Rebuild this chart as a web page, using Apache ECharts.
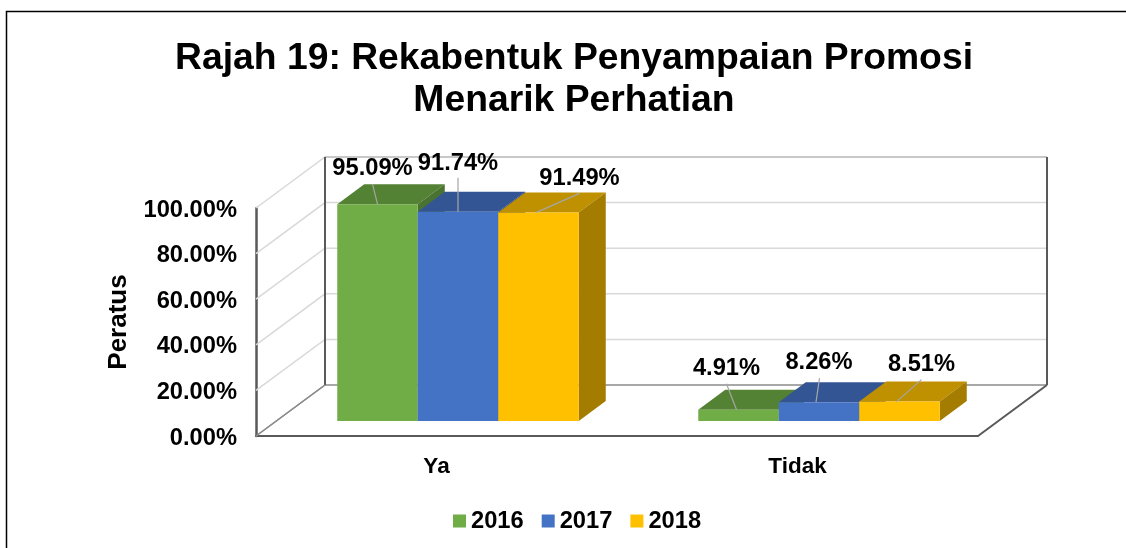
<!DOCTYPE html>
<html><head><meta charset="utf-8">
<style>html,body{margin:0;padding:0;background:#fff}#c{width:1126px;height:548px}</style>
<script src="https://cdn.jsdelivr.net/npm/echarts@6/dist/echarts.min.js"></script>
</head><body><div id="c"></div>
<script>
const categories = ['Ya', 'Tidak'];
const years = ['2016', '2017', '2018'];
const values2016 = [95.09, 4.91];
const values2017 = [91.74, 8.26];
const values2018 = [91.49, 8.51];
const yTicks = [0, 20, 40, 60, 80, 100];
const colors = ['#70AD47', '#4472C4', '#FFC000'];
const topColors = ['#548235', '#335593', '#BF9000'];
const sideColors = ['#4A7230', '#2C4A80', '#A37C00'];

// Perspective of the drawing (pixels)
const wallDx = 69, wallDy = -51;
const barShiftX = 21.5, barShiftY = -15, barW = 80.5, depthX = 27, depthY = -20;
// Label centre (dx, dy), leader end (dx, dy) and leader start dx, relative to the bar's front-top centre;
// one row per series, one cell per category
const labelOffset = [
  [[-5, -35.5, -5, -20, 0], [-12, -41.5, -12, -26, -2]],
  [[0, -48.5, 0, -34, 0], [0, -39.5, 0.5, -24, -3]],
  [[41, -33.5, 41, -19, -2], [22, -37.5, 22, -22, -3]]
];

function barRender(si) {
  return function (params, api) {
    const cat = api.value(0), val = api.value(1);
    const p = api.coord([cat, val]), b = api.coord([cat, 0]);
    const cx = p[0] + barShiftX + (si - 1) * barW;
    const x0 = cx - barW / 2, x1 = cx + barW / 2;
    const yT = p[1] + barShiftY, yB = b[1] + barShiftY;
    const kids = [];
    const poly = (pts, fill, z) => kids.push({ type: 'polygon', shape: { points: pts }, style: { fill: fill }, z2: z });
    poly([[x0, yT], [x0 + depthX, yT + depthY], [x1 + depthX, yT + depthY], [x1, yT]], topColors[si], 1);
    poly([[x1, yT], [x1 + depthX, yT + depthY], [x1 + depthX, yB + depthY], [x1, yB]], sideColors[si], 1);
    poly([[x0, yT], [x1, yT], [x1, yB], [x0, yB]], colors[si], 2);
    const o = labelOffset[si][cat];
    kids.push({ type: 'line', shape: { x1: cx + o[4], y1: yT, x2: cx + o[2], y2: yT + o[3] }, style: { stroke: '#A6A6A6', lineWidth: 1.2 }, z2: 5 });
    kids.push({ type: 'text', x: cx + o[0], y: yT + o[1], style: { text: val.toFixed(2) + '%', font: 'bold 23.7px "Liberation Sans"', fill: '#000', align: 'center', verticalAlign: 'middle' }, z2: 6 });
    return { type: 'group', children: kids };
  };
}

function plotEnds(api, v) {
  const band = api.size([1, 0])[0];
  const l = api.coord([0, v]), r = api.coord([1, v]);
  return [[l[0] - band / 2, l[1]], [r[0] + band / 2, r[1]]];
}

function wallRender(params, api) {
  const v = api.value(0);
  const e = plotEnds(api, v), L = e[0], R = e[1];
  const bl = [L[0] + wallDx, L[1] + wallDy], br = [R[0] + wallDx, R[1] + wallDy];
  const grey = v === 0 ? '#8C8C8C' : '#D9D9D9';
  return { type: 'polyline', shape: { points: [L, bl, br] }, style: { stroke: grey, lineWidth: 1.5, fill: null } };
}

function frameRender(params, api) {
  const e0 = plotEnds(api, 0), e1 = plotEnds(api, 100);
  const a = e0[0], r = e0[1], t = e1[0], rt = e1[1];
  const line = (p, q, c, w) => ({ type: 'line', shape: { x1: p[0], y1: p[1], x2: q[0], y2: q[1] }, style: { stroke: c, lineWidth: w } });
  const back = (p) => [p[0] + wallDx, p[1] + wallDy];
  return { type: 'group', children: [
    line(back(t), back(rt), '#BFBFBF', 1.5),
    line(back(a), back(t), '#595959', 2),
    line(back(r), back(rt), '#595959', 2),
    line(r, back(r), '#595959', 2),
    line(a, back(a), '#8C8C8C', 1.2)
  ] };
}

const series = [
  { type: 'custom', name: 'wall', coordinateSystem: 'cartesian2d', silent: true, z: 1, encode: { y: 0 },
    data: yTicks.map(t => [t]), renderItem: wallRender, clip: false },
  { type: 'custom', name: 'frame', coordinateSystem: 'cartesian2d', silent: true, z: 1, data: [[0]], renderItem: frameRender, clip: false }
];
[values2016, values2017, values2018].forEach((vals, si) => {
  series.push({ type: 'custom', name: years[si], coordinateSystem: 'cartesian2d', z: 3 + si, clip: false,
    itemStyle: { color: colors[si] }, encode: { x: 0, y: 1 },
    data: vals.map((v, i) => [i, v]), renderItem: barRender(si) });
});

const chart = echarts.init(document.getElementById('c'));
chart.setOption({
  animation: false,
  backgroundColor: '#fff',
  textStyle: { fontFamily: 'Liberation Sans' },
  title: { text: 'Rajah 19: Rekabentuk Penyampaian Promosi\nMenarik Perhatian', left: 569, top: 33, textAlign: 'center',
    textStyle: { fontSize: 37.3, fontWeight: 'bold', color: '#000', lineHeight: 42, fontFamily: 'Liberation Sans' } },
  legend: { data: years, left: 453, top: 509, padding: 0, icon: 'rect', itemWidth: 13, itemHeight: 13, itemGap: 18, itemStyle: { borderWidth: 0 },
    textStyle: { fontSize: 23.7, fontWeight: 'bold', color: '#000', fontFamily: 'Liberation Sans' } },
  grid: { left: 256, width: 722, top: 208, height: 228, containLabel: false },
  xAxis: { type: 'category', data: categories, boundaryGap: true,
    axisLine: { lineStyle: { color: '#595959', width: 2 } }, axisTick: { show: false },
    axisLabel: { fontSize: 22.5, fontWeight: 'bold', color: '#000', margin: 19 } },
  yAxis: { type: 'value', min: 0, max: 100, interval: 20, name: 'Peratus', nameLocation: 'middle', nameRotate: 90, nameGap: 124,
    nameTextStyle: { fontSize: 26, fontWeight: 'bold', color: '#000' },
    axisLine: { show: true, lineStyle: { color: '#595959', width: 2.5 } }, axisTick: { show: false }, splitLine: { show: false },
    axisLabel: { color: '#000', margin: 19, formatter: v => '{a|' + v.toFixed(2) + '%}',
      rich: { a: { fontSize: 23.7, fontWeight: 'bold', color: '#000', fontFamily: 'Liberation Sans', padding: [4, 0, 0, 0] } } } },
  graphic: [{ type: 'polyline', silent: true, shape: { points: [[6.5, 548], [6.5, 11.5], [1126, 11.5]] }, style: { stroke: '#000', lineWidth: 1.5, fill: null } }],
  series: series
});
</script></body></html>
